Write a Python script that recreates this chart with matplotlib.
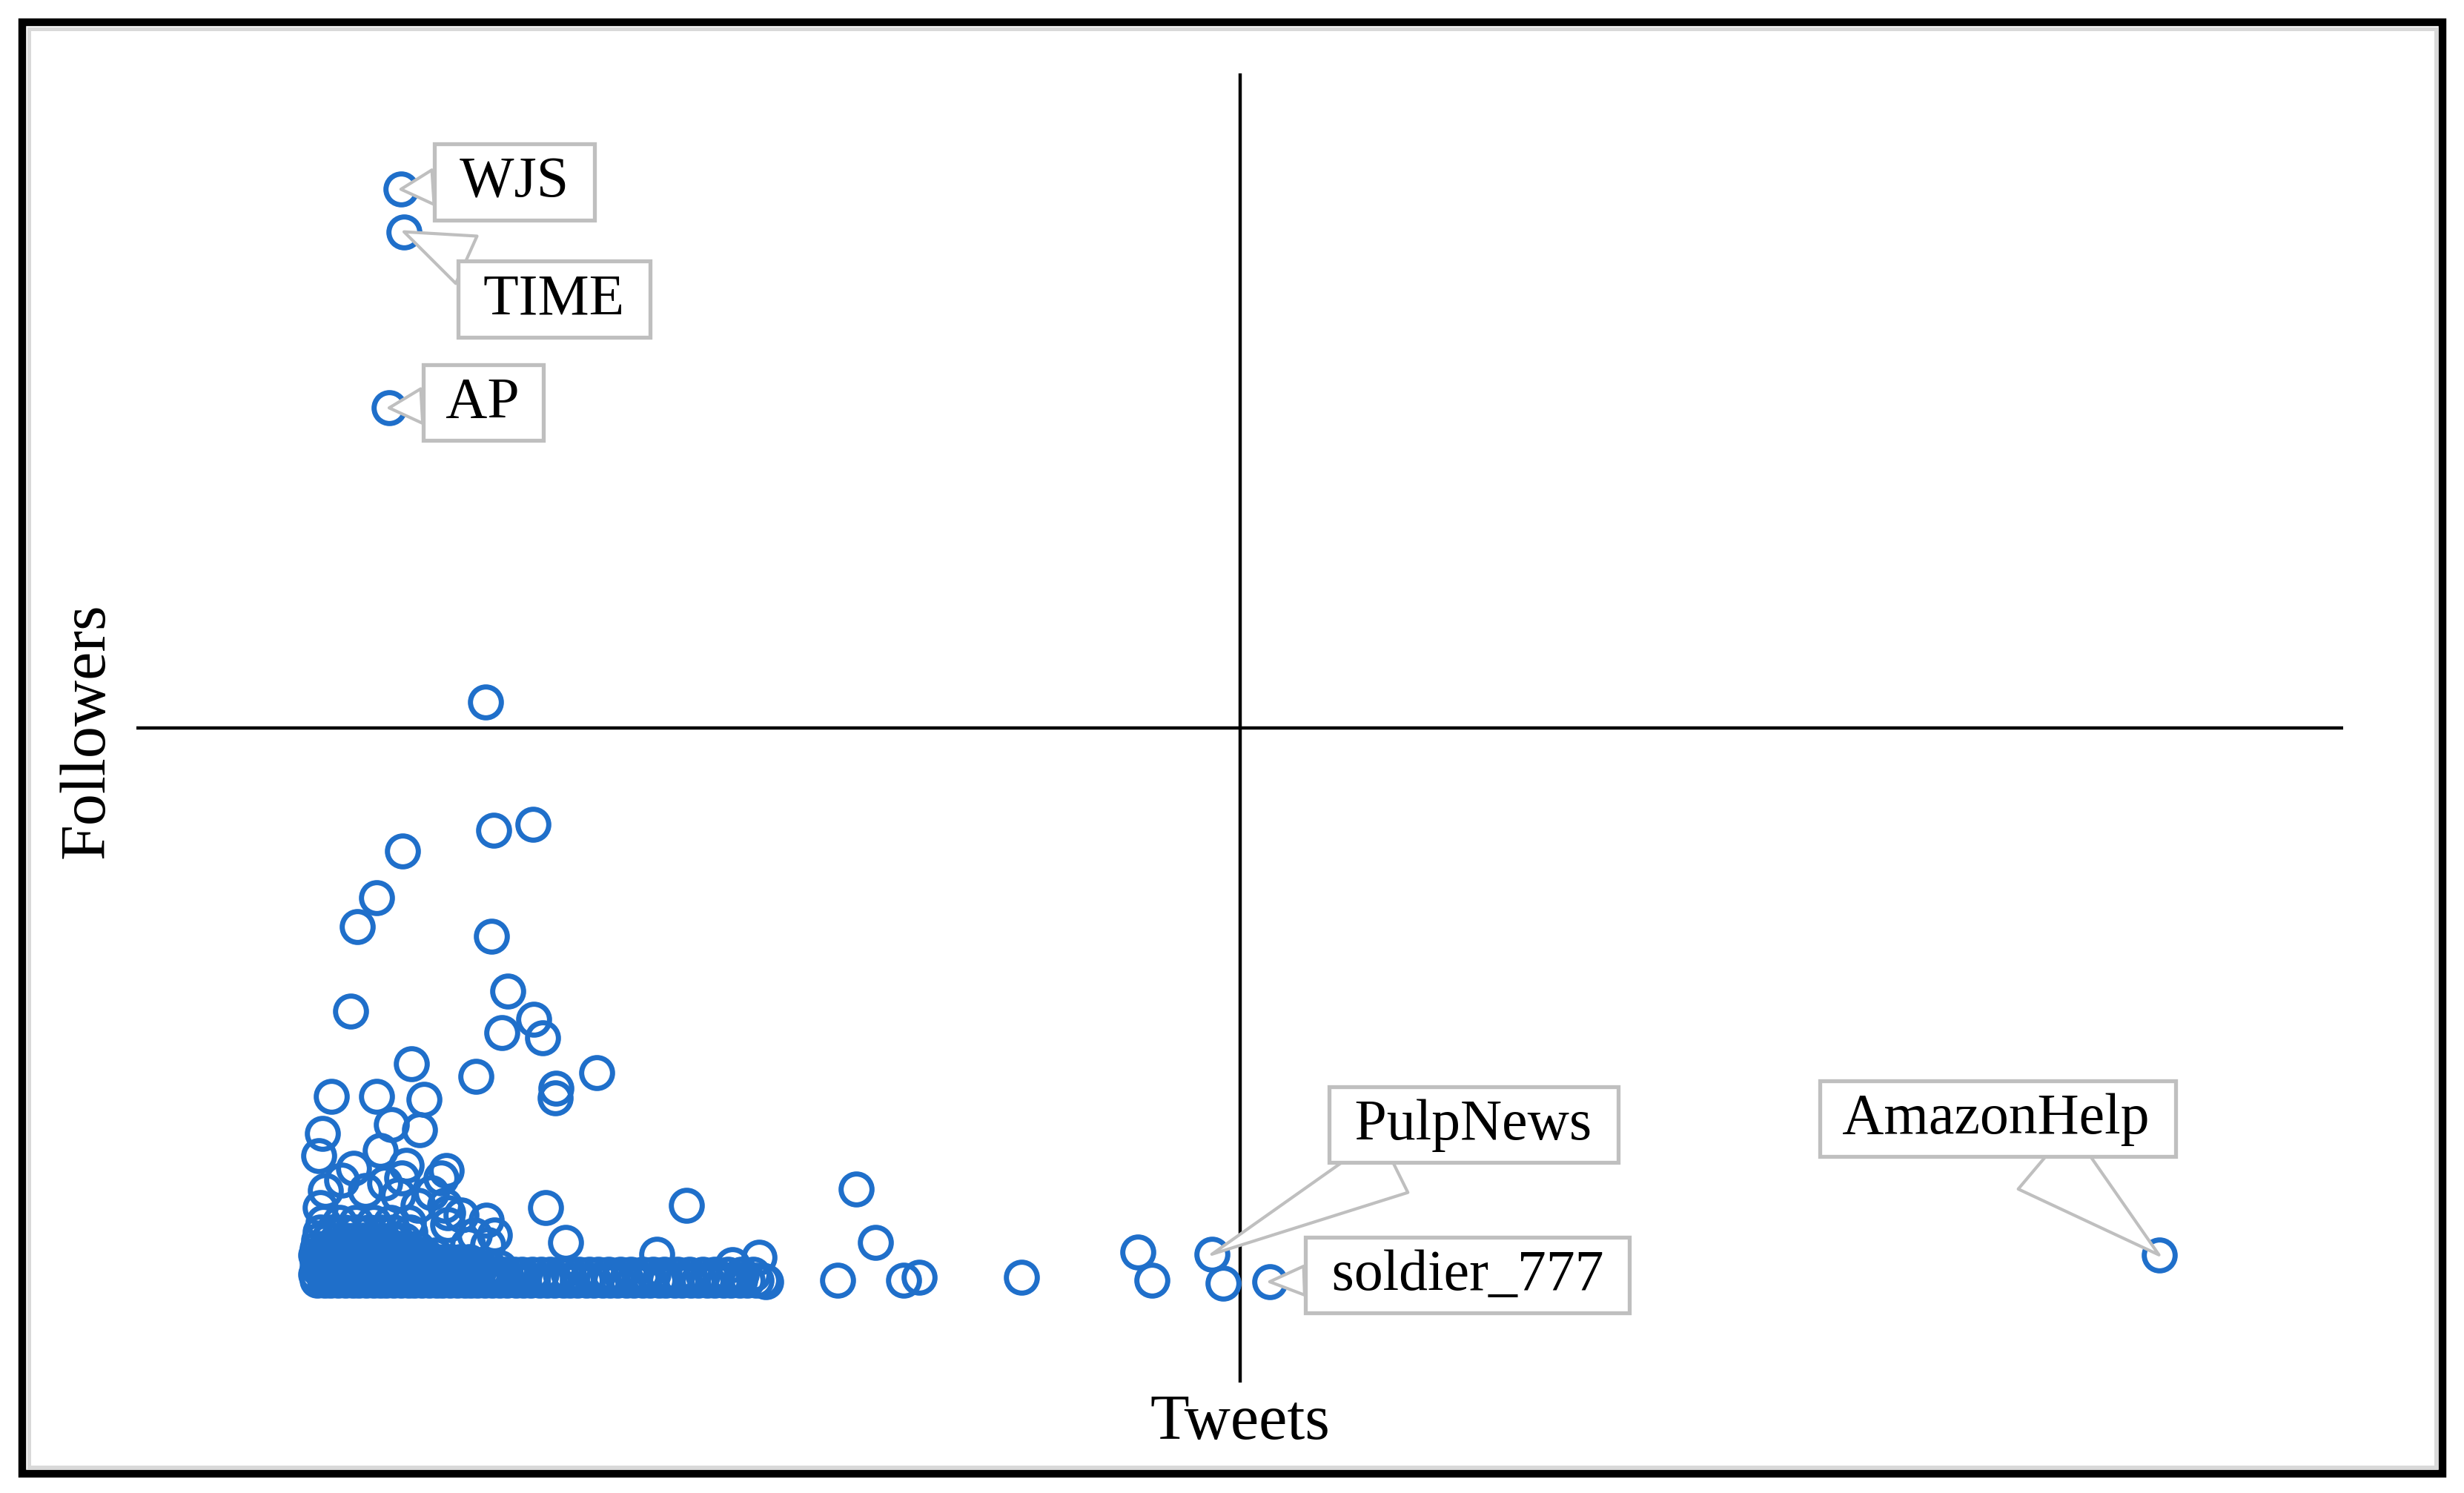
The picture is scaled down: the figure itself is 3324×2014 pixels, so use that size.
import matplotlib
matplotlib.use("Agg")
import matplotlib.pyplot as plt
from matplotlib.patches import Rectangle

W, H = 3324, 2015
DPI = 100
BLUE = "#1F6FCA"
CALLOUT = "#BFBFBF"
plt.rcParams["font.family"] = ["Liberation Serif", "DejaVu Serif"]

#%%
# tweets in thousands, followers in millions
labels = ["WJS", "TIME", "AP", "PulpNews", "soldier_777", "AmazonHelp"]
label_tweets = [17.98, 18.19, 17.18, 73.10, 77.03, 137.48]
label_followers = [18.23, 17.58, 14.89, 1.96, 1.54, 1.95]

# accounts standing out from the main blob
sparse_tweets = [23.73, 24.28, 26.95, 18.09, 16.32, 15.01, 24.13, 25.24, 14.56,
                 24.84, 27.00, 27.61, 18.69, 23.07, 28.51, 31.28, 13.25, 16.32,
                 19.55, 28.46, 12.64, 12.39, 17.33, 19.24, 16.57, 14.76, 18.34,
                 21.06, 20.71, 21.16, 12.85, 27.81, 37.38, 23.78, 29.17, 35.37,
                 40.50, 42.32, 42.77, 48.92, 50.23, 47.66, 52.14, 53.20, 60.15,
                 68.06, 69.02, 73.85, 12.49, 13.95, 15.57, 16.88, 18.04, 17.78,
                 19.14, 20.05, 20.96, 21.16, 22.07, 22.97, 23.88, 24.33, 22.52]
sparse_followers = [10.40, 8.44, 8.53, 8.12, 7.41, 6.96, 6.82, 5.98, 5.67,
                    5.35, 5.55, 5.27, 4.87, 4.68, 4.50, 4.73, 4.37, 4.37,
                    4.33, 4.35, 3.81, 3.47, 3.94, 3.86, 3.54, 3.27, 3.32,
                    3.24, 3.13, 2.59, 2.93, 2.67, 2.71, 2.48, 2.14, 1.96,
                    1.80, 1.91, 1.54, 2.96, 2.14, 1.56, 1.56, 1.61, 1.61,
                    1.99, 1.56, 1.52, 2.67, 3.09, 2.93, 3.05, 3.13, 2.87,
                    2.71, 2.90, 2.71, 2.41, 2.56, 2.25, 2.11, 2.25, 2.11]

# the dense blob of small accounts, read row by row
blob_followers = [1.56, 1.65, 1.75, 1.85, 1.95, 2.05, 2.17, 2.30, 2.45]
blob_tweets = [
    [12.3, 12.8, 13.2, 13.7, 14.2, 14.7, 15.1, 15.6, 16.1, 16.6, 17.0, 17.5,
     18.0, 18.5, 18.9, 19.4, 19.9, 20.4, 20.8, 21.3, 21.8, 22.3, 22.7, 23.2,
     23.7, 24.2, 24.7, 25.2, 25.8, 26.3, 26.8, 27.4, 27.9, 28.4, 29.0, 29.5,
     30.0, 30.6, 31.1, 31.7, 32.2, 32.7, 33.3, 33.8, 34.4, 34.9, 35.5, 36.0,
     36.6, 37.1, 37.7, 38.2, 38.8, 39.3, 39.9, 40.4, 41.0, 41.5, 42.1, 42.6],
    [12.2, 12.7, 13.1, 13.6, 14.1, 14.6, 15.0, 15.5, 16.0, 16.5, 16.9, 17.4,
     17.9, 18.4, 18.8, 19.3, 19.8, 20.3, 20.7, 21.2, 21.7, 22.2, 22.6, 23.1,
     23.6, 24.1, 24.6, 25.1, 25.7, 26.2, 26.9, 27.5, 28.1, 28.8, 29.4, 30.1,
     30.8, 31.4, 32.1, 32.9, 33.6, 34.4, 35.1, 35.9, 36.8, 37.6, 38.5, 39.3,
     40.2, 41.1, 41.9],
    [12.3, 12.8, 13.3, 13.7, 14.2, 14.7, 15.2, 15.7, 16.1, 16.6, 17.1, 17.6,
     18.1, 18.5, 19.0, 19.5, 20.0, 20.5, 20.9, 21.4, 21.9, 22.4, 22.9, 23.4,
     24.0, 24.7],
    [12.3, 12.8, 13.2, 13.7, 14.2, 14.7, 15.1, 15.6, 16.1, 16.6, 17.0, 17.5,
     18.0, 18.5, 19.0, 19.4, 19.9, 20.4, 20.9, 21.4, 22.0, 22.6],
    [12.2, 12.7, 13.2, 13.6, 14.1, 14.6, 15.1, 15.6, 16.0, 16.5, 17.0, 17.5,
     18.0, 18.5, 19.0, 19.6, 20.3],
    [12.3, 12.8, 13.3, 13.8, 14.3, 14.8, 15.3, 15.8, 16.3, 16.8, 17.3, 17.9,
     18.5, 19.1],
    [12.4, 13.0, 13.6, 14.2, 14.8, 15.4, 16.0, 16.7, 17.4, 18.2],
    [12.5, 13.3, 14.1, 14.9, 15.8, 16.6, 17.5, 18.6],
    [12.7, 13.8, 14.9, 16.1, 17.3, 18.5],
]

# where the quadrant lines cross
tweets_cross = 75
followers_cross = 10

#%%
# label box centres and callout wedge widths (layout only)
label_box_x = [25.69, 28.41, 23.58, 90.88, 90.48, 126.50]
label_box_y = [18.34, 16.55, 14.97, 3.94, 1.64, 4.03]
wedge_width = [0.6, 0.9, 0.6, 1.1, 0.5, 1.4]

fig = plt.figure(figsize=(W / DPI, H / DPI), dpi=DPI)
ax = fig.add_axes([184 / W, 1 - 1866 / H, (3161 - 184) / W, (1866 - 100) / H])
ax.set_xlim(0, 150)
ax.set_ylim(0, 20)
ax.set_axis_off()

ax.axhline(followers_cross, color="black", lw=3.2, zorder=1)
ax.axvline(tweets_cross, color="black", lw=3.2, zorder=1)

marker_kw = dict(ls="none", marker="o", ms=30, mfc="none", mec=BLUE, mew=5.0, zorder=2)

for fy, row in zip(blob_followers, blob_tweets):
    ax.plot(row, [fy] * len(row), **marker_kw)
ax.plot(sparse_tweets, sparse_followers, **marker_kw)
ax.plot(label_tweets, label_followers, **marker_kw)

# callout labels
for name, px, py, bx, by, tw in zip(labels, label_tweets, label_followers,
                                    label_box_x, label_box_y, wedge_width):
    ax.annotate(
        f" {name} ",
        xy=(px, py), xytext=(bx, by),
        ha="center", va="center", fontsize=56, color="black", zorder=5,
        bbox=dict(boxstyle="square,pad=0.2", fc="white", ec=CALLOUT, lw=3.8),
        arrowprops=dict(arrowstyle=f"wedge,tail_width={tw}", fc="white", ec=CALLOUT,
                        lw=3.0, shrinkA=0, shrinkB=0),
    )

# axis titles
fig.text(1673 / W, 1 - 1920 / H, "Tweets", ha="center", va="center", fontsize=62)
fig.text(119 / W, 1 - 986 / H, "Followers", ha="center", va="center",
         rotation=90, fontsize=62)

# outer frame with its light inner edge
fig.add_artist(Rectangle((30 / W, 1 - 1989 / H), (3295 - 30) / W, (1989 - 31) / H,
                         transform=fig.transFigure, fill=False, ec="black", lw=7.5))
fig.add_artist(Rectangle((39 / W, 1 - 1980 / H), (3286 - 39) / W, (1980 - 40) / H,
                         transform=fig.transFigure, fill=False, ec="#D9D9D9", lw=3.6))

fig.savefig("out.png", dpi=DPI)
